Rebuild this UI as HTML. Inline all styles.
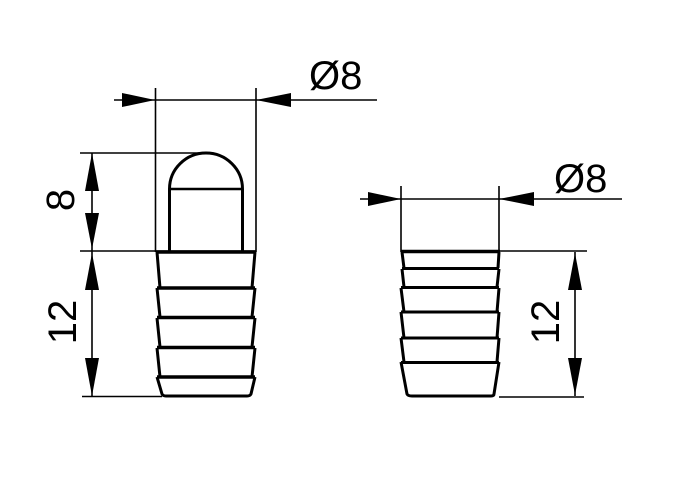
<!DOCTYPE html>
<html><head><meta charset="utf-8"><style>html,body{margin:0;padding:0;background:#fff}svg{display:block}</style></head>
<body>
<svg width="693" height="480" viewBox="0 0 693 480" xmlns="http://www.w3.org/2000/svg" font-family="Liberation Sans, sans-serif">
<g stroke="#000" fill="none" stroke-width="1.6">
  <line x1="155.5" y1="88" x2="155.5" y2="252"/>
  <line x1="256" y1="88" x2="256" y2="252"/>
  <line x1="114" y1="100" x2="377" y2="100"/>
  <line x1="80" y1="153" x2="205" y2="153"/>
  <line x1="80" y1="251" x2="256" y2="251"/>
  <line x1="82" y1="396.5" x2="162" y2="396.5"/>
  <line x1="92" y1="153" x2="92" y2="396"/>
  <line x1="401" y1="186" x2="401" y2="252"/>
  <line x1="499" y1="186" x2="499" y2="252"/>
  <line x1="360" y1="199" x2="622" y2="199"/>
  <line x1="499" y1="251" x2="587" y2="251"/>
  <line x1="499" y1="397" x2="584" y2="397"/>
  <line x1="575" y1="252" x2="575" y2="396"/>
</g>
<g fill="#000">
  <polygon points="155,100 122,93 122,107"/>
  <polygon points="256,100 291,93 291,107"/>
  <polygon points="92,153 85,191 99,191"/>
  <polygon points="92,249 85,213 99,213"/>
  <polygon points="92,253 85,290 99,290"/>
  <polygon points="92,396 85,358 99,358"/>
  <polygon points="401,199 368,192 368,206"/>
  <polygon points="499,199 534,192 534,206"/>
  <polygon points="575,253 568,290 582,290"/>
  <polygon points="575,395 568,358 582,358"/>
</g>
<g stroke="#000" fill="none" stroke-width="3" stroke-linejoin="round">
  <path d="M169.5,251 V189 A36.5,36 0 0 1 242.5,189 V251"/>
  <line x1="169.5" y1="189" x2="242.5" y2="189" stroke-width="2.5"/>
  <line x1="156" y1="252" x2="256" y2="252" stroke-width="3.5"/>
  <path d="M157,252 L160,288 M255,252 L252,288"/>
  <line x1="157" y1="288" x2="255" y2="288" stroke-width="3.5"/>
  <path d="M157,288 L160,317 M255,288 L252,317"/>
  <line x1="157" y1="317.5" x2="255" y2="317.5" stroke-width="3.5"/>
  <path d="M157,318 L160,347 M255,318 L252,347"/>
  <line x1="157" y1="347.5" x2="255" y2="347.5" stroke-width="3.5"/>
  <path d="M157,348 L160,377 M255,348 L252,377"/>
  <line x1="157" y1="377" x2="255" y2="377" stroke-width="3.5"/>
  <path d="M157,377 L162,394 Q163,396 166,396 L247,396 Q250,396 251,394 L255,377"/>
  <line x1="401" y1="251.5" x2="500" y2="251.5" stroke-width="3.5"/>
  <path d="M402,252 L404,268 M499,252 L498,268"/>
  <line x1="402" y1="268.5" x2="499" y2="268.5" stroke-width="3"/>
  <path d="M402,269 L404,287 M499,269 L497,287"/>
  <line x1="401" y1="287.5" x2="499" y2="287.5" stroke-width="3"/>
  <path d="M401,288 L404,312 M499,288 L497,312"/>
  <line x1="401" y1="312" x2="499" y2="312" stroke-width="3"/>
  <path d="M401,312 L404,338 M499,312 L497,338"/>
  <line x1="401" y1="338" x2="499" y2="338" stroke-width="3"/>
  <path d="M401,338 L404,362 M499,338 L497,362"/>
  <line x1="401" y1="362.5" x2="499" y2="362.5" stroke-width="3"/>
  <path d="M401,362 L407,394 Q408,396 412,396 L491,396 Q494,396 494,394 L499,362"/>
</g>
<g fill="#000" font-size="40">
  <text x="309" y="89">Ø8</text>
  <text x="554" y="192">Ø8</text>
  <text transform="translate(74,200) rotate(-90)" text-anchor="middle">8</text>
  <text transform="translate(76,322) rotate(-90)" text-anchor="middle">12</text>
  <text transform="translate(559,322) rotate(-90)" text-anchor="middle">12</text>
</g>
</svg>
</body></html>
